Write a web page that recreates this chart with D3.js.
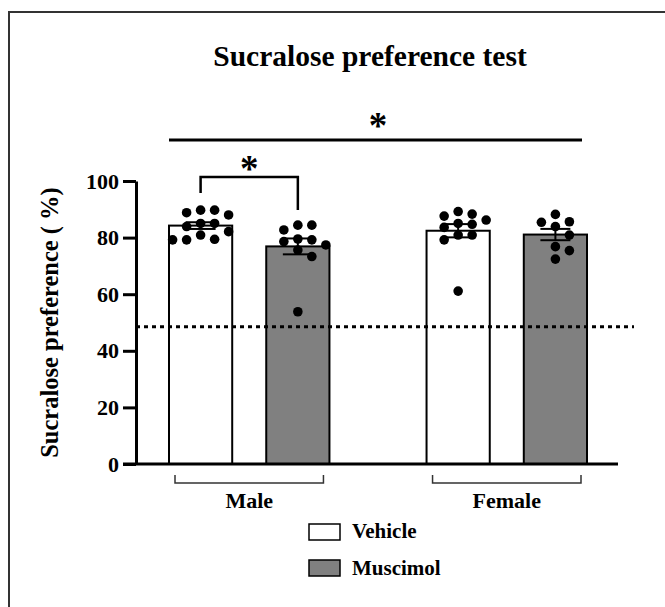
<!DOCTYPE html>
<html>
<head>
<meta charset="utf-8">
<script src="https://cdn.jsdelivr.net/npm/d3@7"></script>
<style>
    html, body { margin: 0; padding: 0; background: #fff; }
    svg text { font-family: "Liberation Serif", "Times New Roman", serif; font-weight: bold; fill: #000; }
</style>
</head>
<body>
<div id="chart"></div>
<script>
// values (percent)
var sexes = ["Male", "Female"];
var treatments = ["Vehicle", "Muscimol"];
var yTicks = [0, 20, 40, 60, 80, 100];
var maleVehicle = [89.7, 88.0, 88.8, 89.7, 83.9, 85.0, 85.0, 82.1, 79.2, 79.4, 80.9, 79.2];
var maleMuscimol = [84.4, 82.7, 84.4, 79.5, 79.2, 77.4, 78.6, 75.6, 73.3, 53.8];
var femaleVehicle = [86.2, 88.3, 89.2, 87.6, 84.7, 85.0, 83.6, 80.9, 80.9, 79.2, 61.1];
var femaleMuscimol = [85.6, 88.2, 85.4, 83.9, 80.9, 76.8, 75.4, 72.4];
var chanceLevel = 48.5;
var treatColor = { "Vehicle": "#ffffff", "Muscimol": "#808080" };

var width = 665, height = 607;

var groups = [
    { sex: "Male", treat: "Vehicle", vals: maleVehicle },
    { sex: "Male", treat: "Muscimol", vals: maleMuscimol },
    { sex: "Female", treat: "Vehicle", vals: femaleVehicle },
    { sex: "Female", treat: "Muscimol", vals: femaleMuscimol }
];
groups.forEach(function (g) {
    g.mean = d3.mean(g.vals);
    g.sem = d3.deviation(g.vals) / Math.sqrt(g.vals.length);
});

var svg = d3.select("#chart")
    .append("svg")
    .attr("width", width)
    .attr("height", height);

// outer frame
svg.append("rect")
    .attr("x", 9).attr("y", 12)
    .attr("width", 700).attr("height", 650)
    .style("fill", "none")
    .style("stroke", "#333")
    .style("stroke-width", 2);

var y = d3.scaleLinear().domain([0, 100]).range([464, 181]);

var x0 = d3.scaleBand()
    .domain(sexes)
    .range([169, 587])
    .paddingInner(0.377)
    .paddingOuter(0);

var x1 = d3.scaleBand()
    .domain(treatments)
    .range([0, x0.bandwidth()])
    .paddingInner(0.35)
    .paddingOuter(0);

function barX(g) { return x0(g.sex) + x1(g.treat); }
function barMid(g) { return barX(g) + x1.bandwidth() / 2; }

// title
svg.append("text")
    .attr("x", 370).attr("y", 66)
    .attr("text-anchor", "middle")
    .style("font-size", "29.5px")
    .text("Sucralose preference test");

// bars
svg.selectAll(".bar")
    .data(groups)
    .join("rect")
    .attr("class", "bar")
    .attr("x", barX)
    .attr("y", d => y(d.mean))
    .attr("width", x1.bandwidth())
    .attr("height", d => y(0) - y(d.mean))
    .style("fill", d => treatColor[d.treat])
    .style("stroke", "#000")
    .style("stroke-width", 2);

// chance line
svg.append("line")
    .attr("x1", 136).attr("x2", 634)
    .attr("y1", y(chanceLevel)).attr("y2", y(chanceLevel))
    .style("stroke", "#000")
    .style("stroke-width", 3)
    .style("stroke-dasharray", "4,4");

// error bars
var capW = 15;
groups.forEach(function (g) {
    var cx = barMid(g);
    var eb = svg.append("g").style("stroke", "#000").style("stroke-width", 2);
    eb.append("line").attr("x1", cx).attr("x2", cx)
        .attr("y1", y(g.mean - g.sem)).attr("y2", y(g.mean + g.sem));
    [g.mean - g.sem, g.mean + g.sem].forEach(function (v) {
        eb.append("line").attr("x1", cx - capW).attr("x2", cx + capW)
            .attr("y1", y(v)).attr("y2", y(v));
    });
});

// simple swarm layout for the individual animals
function swarm(vals, step, minDist) {
    var placed = [];
    var order = vals.map((v, i) => i).sort((a, b) => vals[b] - vals[a]);
    order.forEach(function (i) {
        var py = y(vals[i]);
        for (var k = 0; k < 30; k++) {
            var dx = (k % 2 ? 1 : -1) * Math.ceil(k / 2) * step;
            var hit = placed.some(p => Math.hypot(p.dx - dx, p.py - py) < minDist);
            if (!hit) { placed.push({ dx: dx, py: py }); break; }
        }
    });
    return placed;
}

groups.forEach(function (g) {
    var pts = swarm(g.vals, 14, 10);
    svg.selectAll(null)
        .data(pts)
        .join("circle")
        .attr("cx", d => barMid(g) + d.dx)
        .attr("cy", d => d.py)
        .attr("r", 4.8)
        .style("fill", "#000");
});

// y axis
var yAxis = svg.append("g")
    .attr("transform", "translate(136,0)")
    .call(d3.axisLeft(y).tickValues(yTicks).tickSize(13).tickSizeOuter(0).tickPadding(4))
    .attr("font-family", "Liberation Serif")
    .attr("font-size", null);
yAxis.select(".domain").style("stroke", "#000").style("stroke-width", 3);
yAxis.selectAll(".tick line").style("stroke", "#000").style("stroke-width", 3);
yAxis.selectAll(".tick text")
    .style("font-size", "22px")
    .style("font-family", "'Liberation Serif', serif")
    .style("font-weight", "bold");

// x baseline
svg.append("line")
    .attr("x1", 123).attr("x2", 618)
    .attr("y1", y(0)).attr("y2", y(0))
    .style("stroke", "#000")
    .style("stroke-width", 3);

svg.append("text")
    .attr("transform", "translate(58," + y(50) + ") rotate(-90)")
    .attr("text-anchor", "middle")
    .style("font-size", "24.5px")
    .text("Sucralose preference ( %)");

// group brackets under the axis
sexes.forEach(function (s) {
    var a = x0(s) + 6, b = x0(s) + x0.bandwidth() - 6;
    svg.append("path")
        .attr("d", "M" + a + ",475V483H" + b + "V475")
        .style("fill", "none")
        .style("stroke", "#333")
        .style("stroke-width", 1.5);
    svg.append("text")
        .attr("x", x0(s) + x0.bandwidth() / 2)
        .attr("y", 508)
        .attr("text-anchor", "middle")
        .style("font-size", "22px")
        .text(s);
});

// significance: sex effect
var mv = groups[0], mm = groups[1], fm = groups[3];
svg.append("line")
    .attr("x1", barX(mv)).attr("x2", barX(fm) + x1.bandwidth() - 5)
    .attr("y1", 140).attr("y2", 140)
    .style("stroke", "#000")
    .style("stroke-width", 3);
svg.append("text")
    .attr("x", (barX(mv) + barX(fm) + x1.bandwidth()) / 2)
    .attr("y", 138)
    .attr("text-anchor", "middle")
    .style("font-size", "37px")
    .text("*");

// significance: male vehicle vs muscimol
svg.append("path")
    .attr("d", "M" + barMid(mv) + ",193V177H" + barMid(mm) + "V210")
    .style("fill", "none")
    .style("stroke", "#000")
    .style("stroke-width", 2.5);
svg.append("text")
    .attr("x", (barMid(mv) + barMid(mm)) / 2)
    .attr("y", 181)
    .attr("text-anchor", "middle")
    .style("font-size", "37px")
    .text("*");

// legend
var legend = svg.append("g");
treatments.forEach(function (t, i) {
    legend.append("rect")
        .attr("x", 309).attr("y", 524 + i * 36)
        .attr("width", 31).attr("height", 16)
        .style("fill", treatColor[t])
        .style("stroke", "#000")
        .style("stroke-width", 1.5);
    legend.append("text")
        .attr("x", 352).attr("y", 538 + i * 37)
        .style("font-size", "21px")
        .text(t);
});
</script>
</body>
</html>
